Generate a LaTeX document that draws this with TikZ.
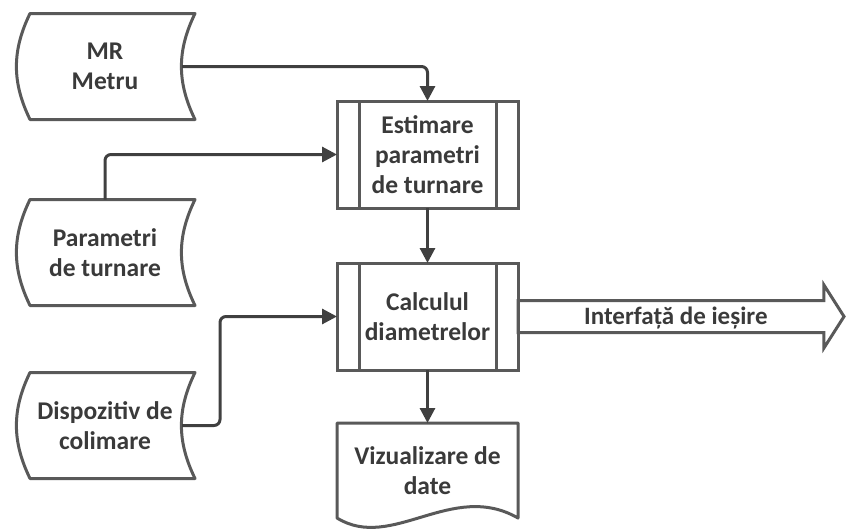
\documentclass[tikz,border=0pt]{standalone}
\usepackage{fontspec}
\setmainfont{Carlito}
\usetikzlibrary{positioning, arrows.meta, shapes.arrows}
\definecolor{linegray}{RGB}{64,64,64}
\definecolor{boxgray}{RGB}{89,89,89}
\definecolor{textgray}{RGB}{58,58,58}
\tikzset{
  base box/.style={minimum width=181pt, minimum height=107pt, inner sep=0pt, outer sep=0pt, align=center,
    font=\fontsize{25.5}{30}\selectfont\bfseries, text=textgray},
  stored box/.style={base box, minimum width=180pt, minimum height=106pt},
  process box/.style={base box, draw=boxgray, line width=3pt,
    path picture={
      \draw[boxgray, line width=3pt] ([xshift=22pt]path picture bounding box.north west) -- ([xshift=22pt]path picture bounding box.south west);
      \draw[boxgray, line width=3pt] ([xshift=-22pt]path picture bounding box.north east) -- ([xshift=-22pt]path picture bounding box.south east);
    }},
  doc box/.style={base box, minimum height=95pt},
  out arrow/.style={single arrow, draw=boxgray, line width=3pt, outer sep=0pt,
    font=\fontsize{25}{29}\selectfont\bfseries, text=textgray,
    text height=17pt, text depth=1pt, inner ysep=5.5pt, inner xsep=0pt,
    minimum width=0pt, minimum height=326pt,
    single arrow head extend=15.5pt, single arrow tip angle=115},
  conn/.style={draw=linegray, line width=3pt, rounded corners=6pt, -{Triangle[length=15pt,width=15pt]}},
}
\newcommand{\stored}[1]{\draw[boxgray, line width=3pt, line join=round] ([xshift=15pt]#1.north west) -- (#1.north east) to[bend right=26] (#1.south east) -- ([xshift=15pt]#1.south west) to[bend left=26] ([xshift=15pt]#1.north west) -- cycle;}
\newcommand{\docpage}[1]{\draw[boxgray, line width=3pt, line join=round] (#1.south west) -- (#1.north west) -- (#1.north east) -- (#1.south east) .. controls ([xshift=-66pt,yshift=38pt]#1.south east) and ([xshift=55pt,yshift=-34pt]#1.south west) .. (#1.south west) -- cycle;}

\begin{document}
\begin{tikzpicture}[x=1pt, y=1pt]
        \useasboundingbox (0,0) rectangle (847,-530);

        \node[process box] (est) at (427.5,-154.5) {Estimare\\parametri\\de turnare};
        \node[process box] (calc) [below = 55pt of est] {Calculul\\diametrelor};
        \node[doc box] (viz) [below = 53pt of calc] {Vizualizare de\\date};
        \node[out arrow] (out) [right = 0pt of calc] {Interfață de ieșire};

        \node[stored box] (mr) at (105,-66.5) {MR\\Metru};
        \node[stored box] (param) [below = 80pt of mr] {Parametri\\de turnare};
        \node[stored box] (disp) [below = 67pt of param] {Dispozitiv de\\colimare};

        \stored{mr}
        \stored{param}
        \stored{disp}
        \docpage{viz}

        \draw[conn] ([xshift=-13pt]mr.east) -| (est.north);
        \draw[conn] (param.north) |- (est.west);
        \draw[conn] ([xshift=-13pt]disp.east) -- ++(38pt,0) |- (calc.west);
        \draw[conn] (est.south) -- (calc.north);
        \draw[conn] (calc.south) -- (viz.north);
\end{tikzpicture}
\end{document}
